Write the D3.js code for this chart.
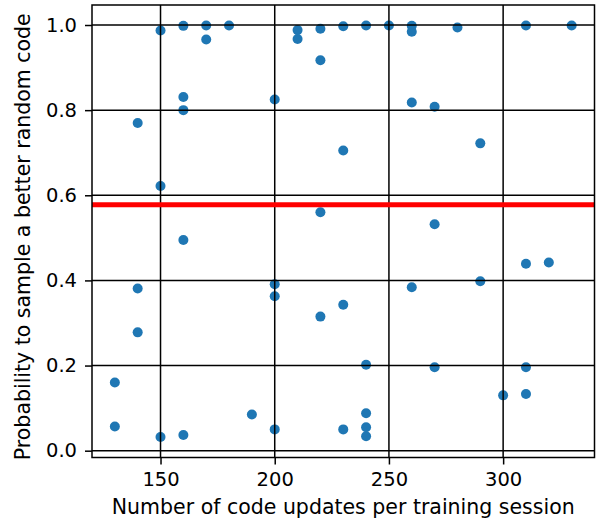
<!DOCTYPE html>
<html>
<head>
<meta charset="utf-8">
<script src="https://cdn.jsdelivr.net/npm/d3@7"></script>
<style>
  body { margin: 0; background: #fff; }
  svg { display: block; font-family: "DejaVu Sans", sans-serif; }
</style>
</head>
<body>
<div id="chart"><svg></svg></div>
<script>
const width = 600;
const height = 521;

// number of code updates per training session
const updates = [
  130, 130,
  140, 140, 140,
  150, 150, 150,
  160, 160, 160, 160, 160,
  170, 170,
  180,
  190,
  200, 200, 200, 200,
  210, 210,
  220, 220, 220, 220,
  230, 230, 230, 230,
  240, 240, 240, 240, 240,
  250,
  260, 260, 260, 260,
  270, 270, 270,
  280,
  290, 290,
  300,
  310, 310, 310, 310,
  320,
  330
];

// probability to sample a better random code
const probs = [
  0.160, 0.057,
  0.770, 0.381, 0.278,
  0.987, 0.622, 0.032,
  0.998, 0.831, 0.800, 0.495, 0.037,
  0.999, 0.966,
  0.999,
  0.085,
  0.825, 0.391, 0.363, 0.050,
  0.988, 0.967,
  0.991, 0.917, 0.560, 0.315,
  0.997, 0.705, 0.343, 0.050,
  0.999, 0.202, 0.088, 0.055, 0.034,
  0.999,
  0.998, 0.984, 0.818, 0.384,
  0.808, 0.532, 0.196,
  0.994,
  0.722, 0.398,
  0.130,
  0.999, 0.439, 0.196, 0.133,
  0.442,
  0.999
];

const baseline = 0.578;
const xTicks = [150, 200, 250, 300];
const yTicks = [0, 0.2, 0.4, 0.6, 0.8, 1.0];

const data = updates.map((u, i) => ({ u: u, p: probs[i] }));

const svg = d3.select("#chart svg")
    .attr("width", width)
    .attr("height", height);

const margin = { top: 5, right: 5.5, bottom: 63.5, left: 92 };
const fontSize = "19.5px";
const labelSize = "20.5px";

const xScale = d3.scaleLinear()
    .domain([120, 340])
    .range([margin.left, width - margin.right]);

const yScale = d3.scaleLinear()
    .domain([-0.016, 1.047])
    .range([height - margin.bottom, margin.top]);

// points
svg.append("g")
  .selectAll("circle")
  .data(data)
  .enter()
  .append("circle")
    .attr("cx", d => xScale(d.u))
    .attr("cy", d => yScale(d.p))
    .attr("r", 5)
    .attr("fill", "#1f77b4");

// grid (drawn over the points, like the original)
const grid = svg.append("g")
    .attr("stroke", "#000")
    .attr("stroke-width", 1.5);

grid.selectAll("line.vx")
  .data(xTicks)
  .enter()
  .append("line")
    .attr("class", "vx")
    .attr("x1", d => xScale(d))
    .attr("x2", d => xScale(d))
    .attr("y1", margin.top)
    .attr("y2", height - margin.bottom);

grid.selectAll("line.hy")
  .data(yTicks)
  .enter()
  .append("line")
    .attr("class", "hy")
    .attr("x1", margin.left)
    .attr("x2", width - margin.right)
    .attr("y1", d => yScale(d))
    .attr("y2", d => yScale(d));

// red reference line
svg.append("line")
    .attr("x1", margin.left)
    .attr("x2", width - margin.right)
    .attr("y1", yScale(baseline))
    .attr("y2", yScale(baseline))
    .attr("stroke", "#ff0000")
    .attr("stroke-width", 5);

// axes
const xAxis = svg.append("g")
    .attr("transform", `translate(0, ${height - margin.bottom})`)
    .call(d3.axisBottom(xScale).tickValues(xTicks).tickSize(7).tickPadding(8).tickFormat(d3.format("d")));

const yAxis = svg.append("g")
    .attr("transform", `translate(${margin.left},0)`)
    .call(d3.axisLeft(yScale).tickValues(yTicks).tickSize(7).tickPadding(8).tickFormat(d3.format(".1f")));

[xAxis, yAxis].forEach(a => {
  a.select(".domain").remove();
  a.selectAll(".tick line").attr("stroke", "#000").attr("stroke-width", 1.5);
  a.selectAll("text")
    .attr("font-size", fontSize)
    .attr("font-family", "DejaVu Sans, sans-serif")
    .attr("fill", "#000");
});

// frame
svg.append("rect")
    .attr("x", margin.left)
    .attr("y", margin.top)
    .attr("width", width - margin.left - margin.right)
    .attr("height", height - margin.top - margin.bottom)
    .attr("fill", "none")
    .attr("stroke", "#000")
    .attr("stroke-width", 1.5);

// labels
svg.append("text")
    .attr("x", (margin.left + width - margin.right) / 2)
    .attr("y", 514)
    .attr("text-anchor", "middle")
    .attr("font-size", labelSize)
    .text("Number of code updates per training session");

svg.append("text")
    .attr("x", -(margin.top + height - margin.bottom) / 2 - 5.5)
    .attr("y", 30)
    .attr("text-anchor", "middle")
    .attr("font-size", labelSize)
    .attr("transform", "rotate(-90)")
    .text("Probability to sample a better random code");
</script>
</body>
</html>
